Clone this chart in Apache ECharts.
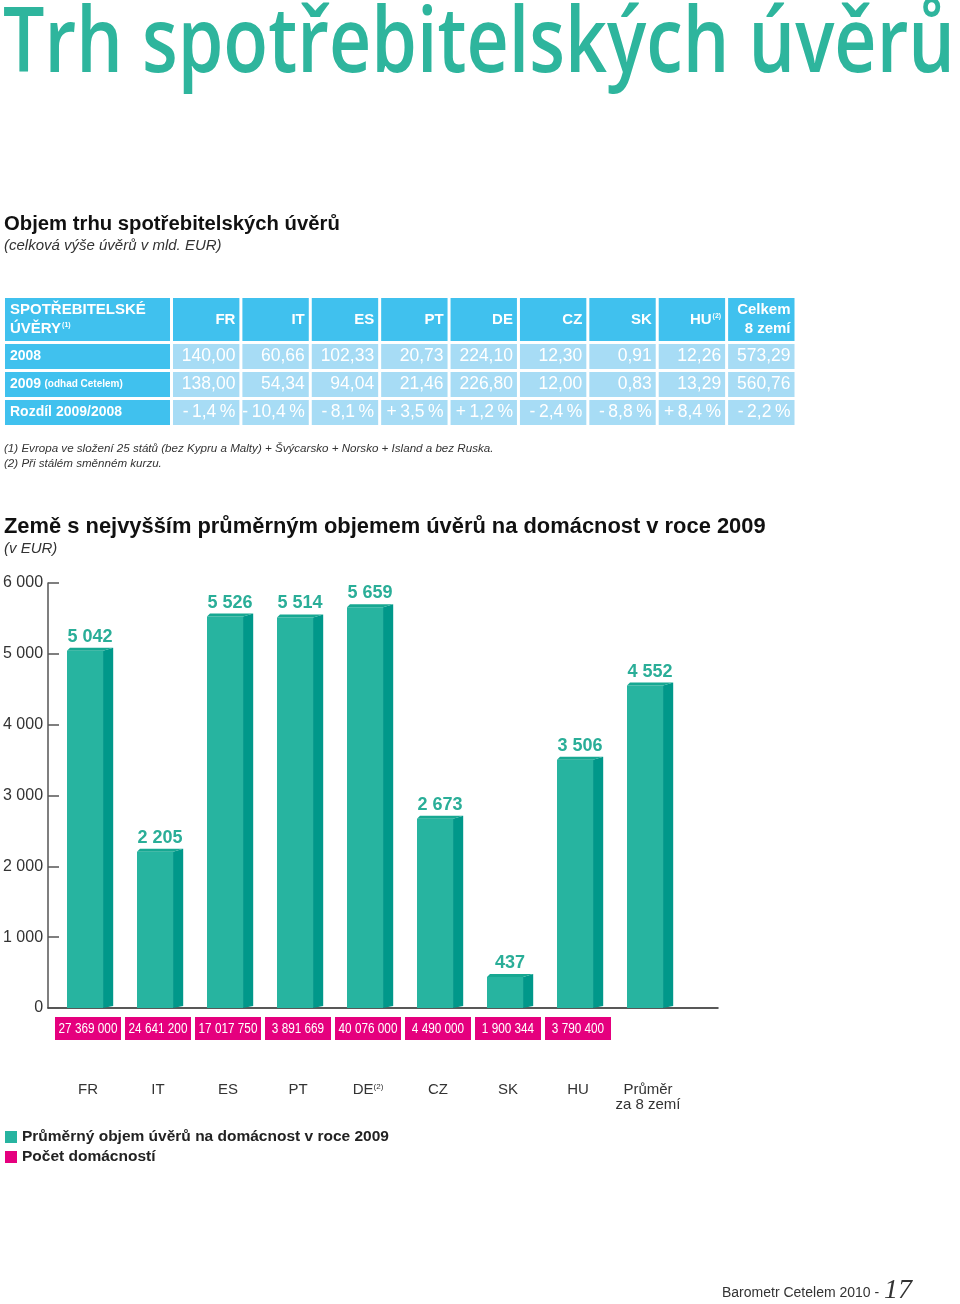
<!DOCTYPE html>
<html><head><meta charset="utf-8">
<script src="https://cdn.jsdelivr.net/npm/echarts@6/dist/echarts.min.js"></script>
<style>html,body{margin:0;padding:0;background:#fff}#c{width:960px;height:1304px}</style>
</head><body><div id="c"></div>
<script>
// ---- Table data ----
const tableCols = ['FR', 'IT', 'ES', 'PT', 'DE', 'CZ', 'SK', 'HU', 'Celkem'];
const tableRows = ['2008', '2009', 'Rozdíl 2009/2008'];
const loans2008 = [140.00, 60.66, 102.33, 20.73, 224.10, 12.30, 0.91, 12.26, 573.29];
const loans2009 = [138.00, 54.34, 94.04, 21.46, 226.80, 12.00, 0.83, 13.29, 560.76];
const diffPct = [-1.4, -10.4, -8.1, 3.5, 1.2, -2.4, -8.8, 8.4, -2.2];

// ---- Chart data ----
const countries = ['FR', 'IT', 'ES', 'PT', 'DE', 'CZ', 'SK', 'HU', 'Průměr\nza 8 zemí'];
const avgLoan = [5042, 2205, 5526, 5514, 5659, 2673, 437, 3506, 4552];
const households = [27369000, 24641200, 17017750, 3891669, 40076000, 4490000, 1900344, 3790400, null];
const yTickLabels = ['0', '1 000', '2 000', '3 000', '4 000', '5 000', '6 000'];

const SANS = '"Liberation Sans", Arial, Helvetica, sans-serif';
const TITLE_FONT = '600 90px "Open Sans", "Liberation Sans", sans-serif';
const TEAL = '#27b4a0', TEAL_SIDE = '#00988a', TEAL_TOP = '#17a892';
const PINK = '#e5007e';
const BLUE = '#40c1ee', LBLUE = '#a7dcf5';
const THIN = '\u2009';

const sp = n => String(n).replace(/\B(?=(\d{3})+(?!\d))/g, ' ');
const dec2 = n => n.toFixed(2).replace('.', ',');
const pct = n => (n < 0 ? '-' : '+') + THIN + Math.abs(n).toFixed(1).replace('.', ',') + THIN + '%';

const mainTitle = 'Trh spotřebitelských úvěrů';
const mctx = document.createElement('canvas').getContext('2d');
mctx.font = TITLE_FONT;
const titleScale = 952 / mctx.measureText(mainTitle).width;

function cellRenderer(bg, getContent, align) {
  return function (params, api) {
    const c = api.coord([api.value(0), api.value(1)]);
    const s = api.size([1, 1]);
    const w = s[0] - 3, h = s[1] - 3;
    const x = c[0] - w / 2, y = c[1] - h / 2;
    const t = getContent(params.dataIndex, api);
    return {
      type: 'group',
      children: [
        { type: 'rect', shape: { x: x, y: y, width: w, height: h }, style: { fill: bg } },
        {
          type: 'text',
          style: Object.assign({
            x: align === 'right' ? x + w - 4 : x + 5,
            y: c[1],
            align: align,
            verticalAlign: 'middle',
            fill: '#fff'
          }, t)
        }
      ]
    };
  };
}

const chart = echarts.init(document.getElementById('c'), null, { renderer: 'canvas' });

const option = {
  animation: false,
  backgroundColor: '#fff',
  grid: [
    { left: 53, top: 583, width: 630, height: 425 },
    { left: 48, top: 583, width: 670, height: 425 },
    { left: 3.5, top: 296.5, width: 168, height: 46 },
    { left: 171.5, top: 296.5, width: 624.5, height: 46 },
    { left: 3.5, top: 342.5, width: 168, height: 84 },
    { left: 171.5, top: 342.5, width: 624.5, height: 84 }
  ],
  xAxis: [
    {
      type: 'category', gridIndex: 0, data: countries,
      axisLine: { show: false }, axisTick: { show: false },
      axisLabel: {
        interval: 0, margin: 74, fontFamily: SANS, fontSize: 15, color: '#333', lineHeight: 15,
        formatter: v => v === 'DE' ? 'DE{s|(2)}' : v,
        rich: { s: { fontSize: 8, color: '#333', padding: [0, 0, 6, 0], fontFamily: SANS } }
      }
    },
    {
      type: 'value', gridIndex: 1, min: 0, max: 1,
      axisLine: { show: true, lineStyle: { color: '#222', width: 1.5 } },
      axisTick: { show: false }, axisLabel: { show: false }, splitLine: { show: false }
    },
    { type: 'category', gridIndex: 2, data: [''], show: false },
    { type: 'category', gridIndex: 3, data: tableCols, show: false },
    { type: 'category', gridIndex: 4, data: [''], show: false },
    { type: 'category', gridIndex: 5, data: tableCols, show: false }
  ],
  yAxis: [
    { type: 'value', gridIndex: 0, min: 0, max: 6000, show: false },
    {
      type: 'value', gridIndex: 1, min: 0, max: 6000, interval: 1000,
      axisLine: { show: true, lineStyle: { color: '#555', width: 1.5 } },
      axisTick: { show: true, inside: true, length: 11, lineStyle: { color: '#555', width: 1.5 } },
      splitLine: { show: false },
      axisLabel: {
        margin: 5, fontFamily: SANS, fontSize: 16, color: '#333',
        formatter: v => yTickLabels[Math.round(v / 1000)]
      }
    },
    { type: 'category', gridIndex: 2, data: [''], show: false },
    { type: 'category', gridIndex: 3, data: [''], show: false },
    { type: 'category', gridIndex: 4, data: tableRows, inverse: true, show: false },
    { type: 'category', gridIndex: 5, data: tableRows, inverse: true, show: false }
  ],
  legend: {
    orient: 'vertical', left: 5, top: 1129, padding: 0,
    itemWidth: 12, itemHeight: 12, itemGap: 4, icon: 'rect',
    textStyle: { fontFamily: SANS, fontSize: 15.5, fontWeight: 'bold', color: '#222' },
    data: ['Průměrný objem úvěrů na domácnost v roce 2009', 'Počet domácností']
  },
  series: [
    {
      name: 'Průměrný objem úvěrů na domácnost v roce 2009',
      type: 'custom', xAxisIndex: 0, yAxisIndex: 0,
      itemStyle: { color: TEAL },
      data: avgLoan.map((v, i) => [i, v]),
      encode: { x: 0, y: 1 },
      renderItem: function (params, api) {
        const i = api.value(0), v = api.value(1);
        const top = api.coord([i, v]);
        const base = api.coord([i, 0]);
        const bw = api.size([1, 0])[0];
        const c = top[0];
        const x0 = c - bw * 0.30, x1 = c + bw * 0.215, x2 = c + bw * 0.36;
        const yt = top[1], yb = base[1];
        return {
          type: 'group',
          children: [
            { type: 'rect', shape: { x: x0, y: yt, width: x1 - x0, height: yb - yt }, style: { fill: TEAL } },
            { type: 'polygon', shape: { points: [[x1, yt], [x2, yt - 3], [x2, yb - 2], [x1, yb]] }, style: { fill: TEAL_SIDE } },
            { type: 'polygon', shape: { points: [[x0, yt], [x0 + 3, yt - 3], [x2, yt - 3], [x1, yt]] }, style: { fill: TEAL_TOP } },
            {
              type: 'text',
              style: {
                text: sp(v), x: c + 2, y: yt - 14, align: 'center', verticalAlign: 'middle',
                fill: '#2aae98', font: 'bold 18px ' + SANS
              }
            }
          ]
        };
      }
    },
    {
      name: 'Počet domácností',
      type: 'custom', xAxisIndex: 0, yAxisIndex: 0,
      itemStyle: { color: PINK },
      data: households.map((v, i) => [i, 0, v]).filter(d => d[2] != null),
      encode: { x: 0, y: 1 },
      renderItem: function (params, api) {
        const i = api.value(0), v = api.value(2);
        const base = api.coord([i, 0]);
        const bw = api.size([1, 0])[0];
        const w = bw - 4;
        return {
          type: 'group',
          children: [
            { type: 'rect', shape: { x: base[0] - w / 2, y: base[1] + 9, width: w, height: 23 }, style: { fill: PINK } },
            {
              type: 'text', x: base[0], y: base[1] + 21, scaleX: 0.84,
              style: {
                text: sp(v), x: 0, y: 0, align: 'center', verticalAlign: 'middle',
                fill: '#fff', font: '14px ' + SANS
              }
            }
          ]
        };
      }
    },
    // table header: first cell
    {
      type: 'custom', xAxisIndex: 2, yAxisIndex: 2, silent: true,
      data: [[0, 0]],
      renderItem: cellRenderer(BLUE, () => ({
        text: '{a|SPOTŘEBITELSKÉ}\n{a|ÚVĚRY}{s|(1)}',
        rich: {
          a: { fontFamily: SANS, fontSize: 15, fontWeight: 'bold', fill: '#fff', lineHeight: 19 },
          s: { fontFamily: SANS, fontSize: 7, fontWeight: 'bold', fill: '#fff', padding: [0, 0, 7, 1] }
        }
      }), 'left')
    },
    // table header: countries
    {
      type: 'custom', xAxisIndex: 3, yAxisIndex: 3, silent: true,
      data: tableCols.map((c, i) => [i, 0]),
      renderItem: cellRenderer(BLUE, (idx) => {
        const col = tableCols[idx];
        let text;
        if (col === 'HU') text = '{a|HU}{s|(2)}';
        else if (col === 'Celkem') text = '{a|Celkem}\n{a|8 zemí}';
        else text = '{a|' + col + '}';
        return {
          text: text,
          rich: {
            a: { fontFamily: SANS, fontSize: 15, fontWeight: 'bold', fill: '#fff', lineHeight: 19 },
            s: { fontFamily: SANS, fontSize: 7, fontWeight: 'bold', fill: '#fff', padding: [0, 0, 7, 1] }
          }
        };
      }, 'right')
    },
    // table row labels
    {
      type: 'custom', xAxisIndex: 4, yAxisIndex: 4, silent: true,
      data: tableRows.map((r, i) => [0, i]),
      renderItem: cellRenderer(BLUE, (idx) => {
        const r = tableRows[idx];
        const text = r === '2009' ? '{a|2009} {b|(odhad Cetelem)}' : '{a|' + r + '}';
        return {
          text: text,
          rich: {
            a: { fontFamily: SANS, fontSize: 14, fontWeight: 'bold', fill: '#fff' },
            b: { fontFamily: SANS, fontSize: 10, fontWeight: 'bold', fill: '#fff' }
          }
        };
      }, 'left')
    },
    // table values
    {
      type: 'custom', xAxisIndex: 5, yAxisIndex: 5, silent: true,
      data: [].concat(
        loans2008.map((v, i) => [i, 0, dec2(v)]),
        loans2009.map((v, i) => [i, 1, dec2(v)]),
        diffPct.map((v, i) => [i, 2, pct(v)])
      ),
      encode: { x: 0, y: 1 },
      renderItem: cellRenderer(LBLUE, (idx, api) => ({
        text: String(api.value(2)),
        font: '17.5px ' + SANS
      }), 'right')
    }
  ],
  graphic: [
    { type: 'text', x: 3, y: 46, scaleX: titleScale, style: { text: mainTitle, font: TITLE_FONT, fill: '#2eb59d', verticalAlign: 'middle' } },
    { type: 'text', x: 4, y: 224, style: { text: 'Objem trhu spotřebitelských úvěrů', font: 'bold 20.3px ' + SANS, fill: '#111', verticalAlign: 'middle' } },
    { type: 'text', x: 4, y: 246, style: { text: '(celková výše úvěrů v mld. EUR)', font: 'italic 15px ' + SANS, fill: '#333', verticalAlign: 'middle' } },
    { type: 'text', x: 4, y: 449, style: { text: '(1) Evropa ve složení 25 států (bez Kypru a Malty) + Švýcarsko + Norsko + Island a bez Ruska.', font: 'italic 11.6px ' + SANS, fill: '#333', verticalAlign: 'middle' } },
    { type: 'text', x: 4, y: 464, style: { text: '(2) Při stálém směnném kurzu.', font: 'italic 11.6px ' + SANS, fill: '#333', verticalAlign: 'middle' } },
    { type: 'text', x: 4, y: 527, style: { text: 'Země s nejvyšším průměrným objemem úvěrů na domácnost v roce 2009', font: 'bold 21.9px ' + SANS, fill: '#111', verticalAlign: 'middle' } },
    { type: 'text', x: 4, y: 549, style: { text: '(v EUR)', font: 'italic 15px ' + SANS, fill: '#333', verticalAlign: 'middle' } },
    { type: 'text', x: 722, y: 1293, style: { text: 'Barometr Cetelem 2010 -', font: '14px ' + SANS, fill: '#333', verticalAlign: 'middle' } },
    { type: 'text', x: 884, y: 1291, style: { text: '17', font: 'italic 28px "Liberation Serif", "DejaVu Serif", serif', fill: '#333', verticalAlign: 'middle' } }
  ]
};
chart.setOption(option);
</script>
</body></html>
